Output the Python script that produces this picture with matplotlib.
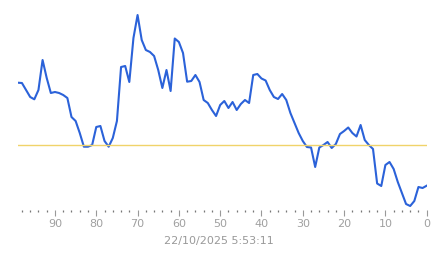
import matplotlib.pyplot as plt
from matplotlib.ticker import MultipleLocator

# eixo x: 99 ... 0 (decrescente)
dias = list(range(99, -1, -1))
valores = [137.3, 137, 130, 123, 120.7, 130, 160, 142, 127, 128,
           127, 125, 122, 103, 99, 87, 73.3, 73.3, 75, 93,
           94, 79, 73.3, 82, 99, 153, 154, 138, 182, 205,
           180, 170, 168, 164, 150, 132, 150, 129, 181.5, 178,
           167, 138.3, 139, 145, 138, 120, 117, 110, 104, 115,
           119, 112, 118, 110, 116, 120, 117, 145, 146, 141.5,
           139.5, 130, 123, 121, 126, 120, 107, 97, 87, 79,
           73, 72.5, 53, 72.5, 75, 78, 72, 76, 86, 89,
           92.5, 87, 83.5, 95, 80, 75, 71, 36.5, 34, 55,
           58, 51, 38, 27, 16, 14, 19, 33, 32, 34.3]
referencia = 75

fig = plt.figure(figsize=(4.43, 2.58), dpi=100)
ax = fig.add_axes([17.8 / 443, 48 / 258, 408.9 / 443, 210 / 258])

ax.plot(dias, valores, color="#2b62d9", linewidth=1.5, solid_joinstyle="round")
ax.axhline(referencia, color="#f0d36a", linewidth=1.0)

ax.set_xlim(99, 0)
ax.set_ylim(10, 220)

for s in ax.spines.values():
    s.set_visible(False)

ax.xaxis.set_major_locator(MultipleLocator(10))
ax.xaxis.set_minor_locator(MultipleLocator(2))
ax.tick_params(axis="x", which="major", length=4, width=0.8, color="#999999",
               labelcolor="#a0a0a0", labelsize=8, pad=2.5)
ax.tick_params(axis="x", which="minor", length=1.5, width=0.9, color="#777777")
ax.set_yticks([])

fig.text(219 / 443, 1 - 241 / 258, "22/10/2025 5:53:11", color="#999999",
         fontsize=8, ha="center", va="center")

plt.savefig("out.png", dpi=100)
